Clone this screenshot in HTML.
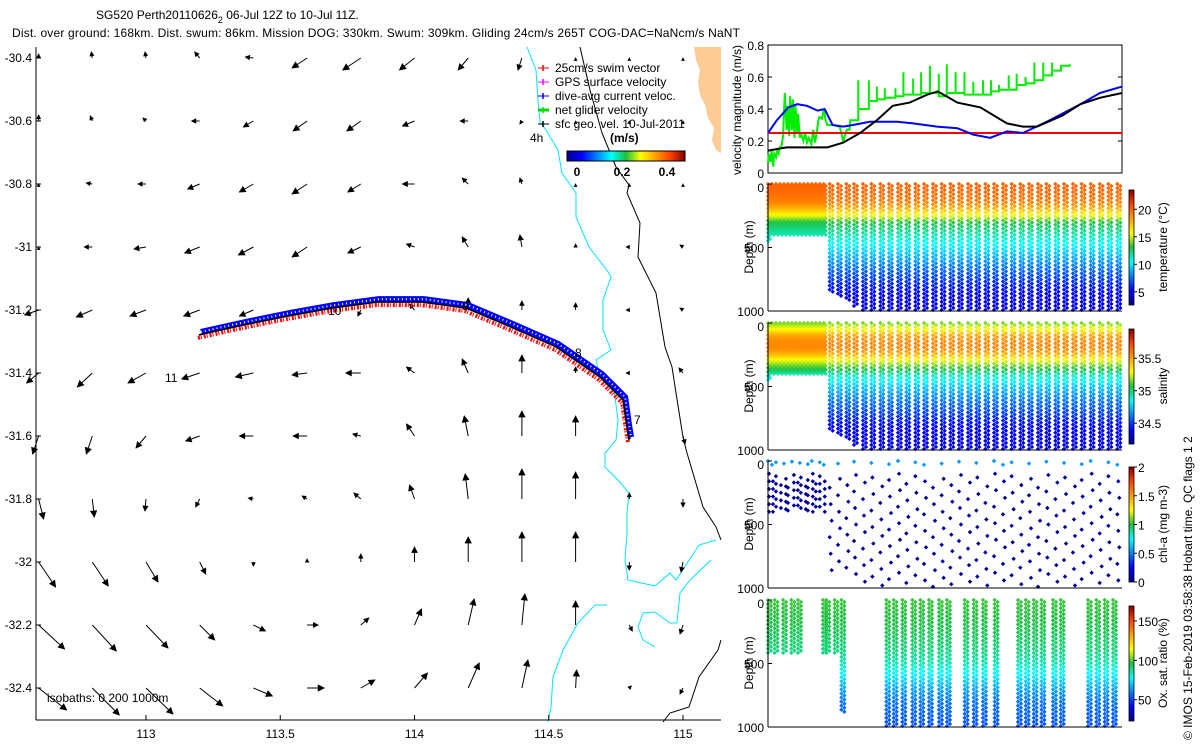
<!DOCTYPE html>
<html><head><meta charset="utf-8"><style>
html,body{margin:0;padding:0;background:#fff;}
svg{display:block;font-family:"Liberation Sans",sans-serif;}
text{fill:#000;}
</style></head><body>
<svg id="fig" width="1200" height="750" viewBox="0 0 1200 750" xmlns="http://www.w3.org/2000/svg">
<defs>
<linearGradient id="jetH" x1="0" x2="1" y1="0" y2="0">
<stop offset="0" stop-color="#00008f"/><stop offset="0.125" stop-color="#0000ff"/><stop offset="0.375" stop-color="#00ffff"/><stop offset="0.5" stop-color="#20c040"/><stop offset="0.625" stop-color="#ffff00"/><stop offset="0.875" stop-color="#ff4000"/><stop offset="1" stop-color="#800000"/>
</linearGradient>
<linearGradient id="jetV" x1="0" x2="0" y1="1" y2="0">
<stop offset="0" stop-color="#00008f"/><stop offset="0.125" stop-color="#0000ff"/><stop offset="0.375" stop-color="#00ffff"/><stop offset="0.5" stop-color="#20c040"/><stop offset="0.625" stop-color="#ffff00"/><stop offset="0.875" stop-color="#ff4000"/><stop offset="1" stop-color="#800000"/>
</linearGradient>
</defs>
<text x="96" y="19" font-size="12">SG520 Perth20110626<tspan font-size="9" dy="4">2</tspan><tspan dy="-4"> 06-Jul 12Z to 10-Jul 11Z.</tspan></text>
<text x="12" y="37" font-size="12" textLength="728">Dist. over ground: 168km. Dist. swum: 86km. Mission DOG: 330km. Swum: 309km. Gliding 24cm/s 265T COG-DAC=NaNcm/s NaNT</text>
<g id="map"></g>
<g id="vel"></g>
<g id="scat"></g>
<text transform="translate(1192,740) rotate(-90)" font-size="12">© IMOS 15-Feb-2019 03:58:38 Hobart time. QC flags 1  2</text>
</svg>
<script>
// ---------- MAP DATA ----------
const mapLons=[112.6,112.8,113.0,113.2,113.4,113.6,113.8,114.0,114.2,114.4,114.6,114.8,115.0];
const mapLats=[-30.4,-30.6,-30.8,-31.0,-31.2,-31.4,-31.6,-31.8,-32.0,-32.2,-32.4];
const arrowU=[
[0,-1,-1,-5,-8,-15,-18,-15,-10,-4,0,0,0],
[0,-2,-3,-8,-10,-14,-14,-12,-8,-2,0,0,0],
[0,-6,-8,-12,-14,-15,-13,-12,-6,-2,0,0,0],
[0,-8,-12,-15,-15,-15,-13,-8,-6,-2,0,-3,-3],
[-14,-16,-16,-16,-14,-8,-3,-5,0,0,0,-3,-3],
[-12,-15,-18,-18,-18,-15,-15,-8,-6,0,0,-3,-4],
[-6,-6,-10,-14,-14,-14,-8,-8,-4,0,0,0,2],
[5,2,-1,-4,-5,-5,-7,-5,-3,0,0,0,0],
[17,16,12,6,0,0,0,0,0,0,0,0,-2],
[26,24,22,15,12,11,8,7,6,3,0,3,-3],
[28,27,27,23,19,17,14,13,11,6,1,2,-3]];
const arrowV=[
[4,6,6,6,1,-10,-12,-12,-12,-12,0,0,0],
[6,5,3,0,-6,-10,-10,-5,0,-3,0,0,0],
[0,1,0,-5,-8,-10,-8,0,6,6,0,0,0],
[0,0,-2,-6,-8,-10,-6,3,10,12,3,0,2],
[-5,-7,-6,-6,-6,-3,-6,6,12,9,7,0,2],
[-10,-14,-10,-6,-4,-2,0,6,14,18,6,0,5],
[-18,-18,-12,-5,0,0,2,12,20,25,20,0,-8],
[-20,-18,-12,-8,1,3,6,14,25,30,27,6,-8],
[-25,-24,-20,-12,-4,3,8,15,25,30,30,-8,-10],
[-24,-26,-23,-15,-6,0,7,16,26,31,24,-6,-9],
[-22,-27,-26,-18,-8,0,8,15,25,28,18,2,-6]];
const trackLon=[113.197,113.361,113.529,113.693,113.860,114.028,114.192,114.359,114.527,114.691,114.777,114.791,114.799];
const trackLat=[-31.279,-31.248,-31.219,-31.194,-31.175,-31.175,-31.194,-31.254,-31.317,-31.413,-31.486,-31.571,-31.613];
const mapXTicks=[113,113.5,114,114.5,115];
const mapXTickLabels=["113","113.5","114","114.5","115"];
const mapYTicks=[-30.4,-30.6,-30.8,-31,-31.2,-31.4,-31.6,-31.8,-32,-32.2,-32.4];
const mapYTickLabels=["-30.4","-30.6","-30.8","-31","-31.2","-31.4","-31.6","-31.8","-32","-32.2","-32.4"];

// ---------- VELOCITY DATA (t = days since 06-Jul 00Z) ----------
const blueT=[0.5,0.60,0.73,0.83,0.94,1.06,1.14,1.23,1.35,1.46,1.65,1.96,2.14,2.41,2.64,2.82,3.01,3.20,3.38,3.65,4.03,4.25,4.50];
const blueV=[0.25,0.33,0.41,0.43,0.42,0.39,0.40,0.30,0.29,0.30,0.32,0.32,0.31,0.29,0.28,0.24,0.22,0.26,0.25,0.32,0.43,0.50,0.54];
const blackT=[0.5,0.71,0.94,1.17,1.35,1.54,1.73,1.91,2.10,2.30,2.42,2.64,2.90,3.20,3.38,3.54,3.83,4.03,4.25,4.50];
const blackV=[0.14,0.16,0.16,0.16,0.19,0.25,0.33,0.42,0.44,0.49,0.51,0.44,0.41,0.31,0.29,0.29,0.36,0.43,0.47,0.50];
const swimV=0.25;
const greenT=[0.50,0.51,0.53,0.54,0.56,0.57,0.59,0.60,0.62,0.63,0.65,0.67,0.68,0.69,0.71,0.72,0.74,0.75,0.77,0.78,0.80,0.81,0.83,0.84,0.86,0.87,0.90,0.92,0.94,0.96,0.99,1.01,1.03,1.05,1.07,1.08,1.11,1.13,1.15,1.17,1.23,1.31,1.35,1.39,1.42,1.43,1.51];
const greenV=[0.06,0.12,0.07,0.14,0.04,0.12,0.10,0.14,0.12,0.16,0.16,0.23,0.37,0.50,0.27,0.42,0.23,0.48,0.27,0.46,0.22,0.42,0.25,0.37,0.22,0.25,0.20,0.25,0.19,0.22,0.18,0.27,0.19,0.25,0.33,0.35,0.34,0.40,0.33,0.30,0.30,0.29,0.20,0.27,0.27,0.33,0.33];
const diveT=[1.52,1.64,1.73,1.82,1.94,2.03,2.14,2.23,2.33,2.43,2.52,2.62,2.72,2.82,2.93,3.02,3.11,3.22,3.31,3.41,3.51,3.61,3.71,3.81];
const divePeak=[0.58,0.58,0.54,0.53,0.53,0.63,0.59,0.63,0.67,0.62,0.68,0.63,0.63,0.57,0.58,0.58,0.55,0.61,0.62,0.60,0.69,0.69,0.69,0.67];
const diveBase=[0.40,0.45,0.46,0.47,0.48,0.49,0.49,0.50,0.50,0.48,0.50,0.50,0.49,0.49,0.49,0.51,0.52,0.52,0.55,0.56,0.58,0.61,0.64,0.67];
const greenEnd=[3.91,0.68];
const velTicks=[0,0.2,0.4,0.6,0.8];
const velTickLabels=["0","0.2","0.4","0.6","0.8"];

// ---------- SECTION DATA ----------
const shallowT=[0.50,0.545,0.59,0.635,0.68,0.725,0.77,0.815,0.86,0.905,0.95,0.995,1.04,1.085,1.13];
const shallowMax=[450,400,400,400,400,400,400,400,400,400,400,400,400,400,400];
const deepT=[1.197,1.291,1.385,1.472,1.573,1.668,1.769,1.867,1.969,2.063,2.165,2.263,2.364,2.462,2.560,2.658,2.760,2.854,2.956,3.054,3.155,3.253,3.351,3.449,3.551,3.645,3.747,3.845,3.946,4.044,4.146,4.248,4.346,4.447];
const deepMax=[863,889,916,968,1000,1000,1000,1000,1000,1000,1000,1000,1000,1000,1000,1000,1000,1000,1000,1000,1000,1000,1000,1000,1000,1000,1000,1000,1000,1000,1000,1000,1000,1000];
const profDepth=[0,50,100,150,200,250,300,400,500,600,700,800,900,1000];
const tempProf=[20.0,19.8,19.5,19.0,17.5,15.5,13.0,11.5,10.0,8.5,7.0,5.8,4.9,4.3];
const salProf=[35.15,35.3,35.5,35.56,35.56,35.45,35.25,34.95,34.75,34.62,34.52,34.42,34.36,34.32];
const oxDepth=[0,200,400,500,600,700,800,1000];
const oxProf=[98,95,90,85,75,65,58,52];
const chlSurf=0.55;
const oxT=[0.50,0.575,0.67,0.764,0.839,1.121,1.159,1.253,1.329,1.837,1.92,2.018,2.131,2.221,2.319,2.432,2.522,2.722,2.824,2.929,3.061,3.325,3.412,3.502,3.589,3.720,3.807,4.116,4.210,4.304,4.398];
const oxMax=[420,420,420,420,420,420,420,420,880,1000,1000,1000,1000,1000,1000,1000,1000,1000,1000,1000,1000,1000,1000,1000,1000,1000,1000,1000,1000,1000,1000];
const chlPhase=[0,60,20,90,40,110,10,70,30,100,50,0,80,20,60,110,40,90,10,70,30,100,50,0,80,20,60,110,40,90,10,70,30,100];
const dayTicks=[7,8,9,10];
const dayLabels=["07Jul","08Jul","09Jul","10Jul"];

// ---------- helpers ----------
const NS="http://www.w3.org/2000/svg";
function mk(tag,attrs,parent){const e=document.createElementNS(NS,tag);for(const k in attrs)e.setAttribute(k,attrs[k]);parent.appendChild(e);return e;}
function clamp(v){return Math.max(0,Math.min(1,v));}
const jetStops=[[0,0,0,143],[0.125,0,0,255],[0.375,0,255,255],[0.5,32,192,64],[0.625,255,255,0],[0.875,255,64,0],[1,128,0,0]];
function jet(f){f=clamp(f);for(let i=1;i<jetStops.length;i++){if(f<=jetStops[i][0]){const a=jetStops[i-1],b=jetStops[i];const w=(f-a[0])/(b[0]-a[0]);return `rgb(${Math.round(a[1]+w*(b[1]-a[1]))},${Math.round(a[2]+w*(b[2]-a[2]))},${Math.round(a[3]+w*(b[3]-a[3]))})`;}}return "rgb(128,0,0)";}
function interp(xs,ys,x){if(x<=xs[0])return ys[0];for(let i=1;i<xs.length;i++){if(x<=xs[i]){const f=(x-xs[i-1])/(xs[i]-xs[i-1]);return ys[i-1]+f*(ys[i]-ys[i-1]);}}return ys[ys.length-1];}

// ---------- MAP ----------
const map=document.getElementById('map');
const mx=lon=>146+(lon-113)*268.5;
const my=lat=>58+(-30.4-lat)*315;
let land=mk('path',{d:"M694,47 L721,47 L721,153 L716,150 L712,140 L714,128 L708,118 L705,105 L700,95 L698,82 L700,70 L696,60 Z",fill:"#fdcb96",stroke:"none"},map);

let iso200=mk('polyline',{points:"527,47 536,70 538,100 540,122 546,130 558,150 562,173 576,193 576,217 589,247 609,273 611,277 603,300 603,330 611,350 596,360 600,377 614,390 618,420 616,440 605,453 605,467 618,480 629,493 627,513 627,533 625,560 628,580 655,586 670,573 676,580 699,545 716,540",fill:"none",stroke:"#00e5ff","stroke-width":1},map);

let iso200b=mk('polyline',{points:"711,560 690,580 680,593 677,623 670,623 655,612 643,613 638,627 643,640 655,647",fill:"none",stroke:"#00e5ff","stroke-width":1},map);

let iso200c=mk('polyline',{points:"607,605 595,605 578,623 563,650 553,677 551,707 548,722",fill:"none",stroke:"#00e5ff","stroke-width":1},map);

let iso1000=mk('polyline',{points:"580,47 590,90 602,133 616,167 629,185 627,193 640,223 638,257 656,293 665,347 672,367 676,393 683,437 687,453 703,507 716,527 721,540",fill:"none",stroke:"#000","stroke-width":1},map);

let iso1000b=mk('polyline',{points:"721,640 718,650 699,677 689,707 670,713 663,722",fill:"none",stroke:"#000","stroke-width":1},map);

for(let r=0;r<mapLats.length;r++){for(let c=0;c<mapLons.length;c++){
  const u=arrowU[r][c],v=arrowV[r][c];const x0=mx(mapLons[c]),y0=my(mapLats[r]);
  const x1=x0+u,y1=y0-v;const L=Math.hypot(u,v);
  const g=mk('g',{},map);
  
  mk('line',{x1:x0,y1:y0,x2:x1,y2:y1,stroke:"#000","stroke-width":1},g);
  const h=Math.min(6,2.5+L*0.2);const ux=L?u/L:0,uy=L?-v/L:-1;
  const bx=x1-ux*h,by=y1-uy*h;
  mk('polygon',{points:`${x1},${y1} ${bx-uy*h*0.5},${by+ux*h*0.5} ${bx+uy*h*0.5},${by-ux*h*0.5}`,fill:"#000",stroke:"#000","stroke-width":0.8},g);
}}
const tp=trackLon.map((l,i)=>`${mx(l)},${my(trackLat[i])}`).join(' ');
let tb=mk('polyline',{points:tp,fill:"none",stroke:"#0000ff","stroke-width":6,transform:"translate(2,-3)","stroke-linejoin":"round"},map);

let tw=mk('polyline',{points:tp,fill:"none",stroke:"#fff","stroke-width":2,"stroke-dasharray":"1 3",transform:"translate(2,-3)"},map);

let tr=mk('polyline',{points:tp,fill:"none",stroke:"#ff0000","stroke-width":4,"stroke-dasharray":"2 1 1 2",transform:"translate(-1,3)"},map);

let tk=mk('polyline',{points:tp,fill:"none",stroke:"#000","stroke-width":1.5},map);

[["10",328,315],["9",462,310],["8",575,357],["7",634,424],["11",165,382],["4h",530,142]].forEach(d=>{const t=mk('text',{x:d[1],y:d[2],"font-size":12},map);t.textContent=d[0];
});
let mxa=mk('line',{x1:36,y1:720,x2:721,y2:720,stroke:"#000"},map);
let mya=mk('line',{x1:36,y1:47,x2:36,y2:720,stroke:"#000"},map);
mapXTicks.forEach((v,i)=>{const x=mx(v);mk('line',{x1:x,y1:720,x2:x,y2:715,stroke:"#000"},map);
 const t=mk('text',{x:x,y:738,"font-size":12,"text-anchor":"middle"},map);t.textContent=mapXTickLabels[i];
 });
mapYTicks.forEach((v,i)=>{const y=my(v);mk('line',{x1:36,y1:y,x2:41,y2:y,stroke:"#000"},map);
 const t=mk('text',{x:32,y:y+4,"font-size":12,"text-anchor":"end"},map);t.textContent=mapYTickLabels[i];
 });
let isoT=mk('text',{x:47,y:702,"font-size":12},map);isoT.textContent="isobaths: 0   200  1000m";

const legItems=[["25cm/s swim vector","#ff0000",1],["GPS surface velocity","#ff00ff",1],["dive-avg current veloc.","#0000ff",1],["net glider velocity","#00dd00",3],["sfc geo. vel. 10-Jul-2011","#000",1]];
legItems.forEach((it,i)=>{const y=68+i*14;const g=mk('g',{},map);
 
 mk('line',{x1:538,y1:y,x2:549,y2:y,stroke:it[1],"stroke-width":it[2]},g);
 mk('line',{x1:543,y1:y-3,x2:543,y2:y+3,stroke:it[1],"stroke-width":1.5},g);
 const t=mk('text',{x:555,y:y+4,"font-size":12},g);t.textContent=it[0];});
let cu=mk('text',{x:610,y:142,"font-size":12,"font-weight":"bold"},map);cu.textContent="(m/s)";
let cb=mk('rect',{x:567,y:151,width:118,height:10,fill:"url(#jetH)",stroke:"#000","stroke-width":1},map);
[["0",577],["0.2",622],["0.4",667]].forEach(d=>{const t=mk('text',{x:d[1],y:176,"font-size":12,"font-weight":"bold","text-anchor":"middle"},map);t.textContent=d[0];
 });

// ---------- VELOCITY ----------
const vel=document.getElementById('vel');
const tx=t=>768+(t-0.5)*88.5;
const vy=v=>173-v*160;
let vb=mk('rect',{x:768,y:45,width:354,height:128,fill:"none",stroke:"#000"},vel);
velTicks.forEach((v,i)=>{const y=vy(v);mk('line',{x1:768,y1:y,x2:772,y2:y,stroke:"#000"},vel);mk('line',{x1:1118,y1:y,x2:1122,y2:y,stroke:"#000"},vel);
 const t=mk('text',{x:764,y:y+5,"font-size":12,"text-anchor":"end"},vel);t.textContent=velTickLabels[i];
 });
let vl=mk('text',{transform:"translate(741,110) rotate(-90)","font-size":12,"text-anchor":"middle"},vel);vl.textContent="velocity magnitude (m/s)";

let gp=[];greenT.forEach((t,i)=>gp.push(`${tx(t)},${vy(greenV[i])}`));
let prev=greenV[greenV.length-1];
diveT.forEach((t,i)=>{gp.push(`${tx(t)},${vy(prev)}`);gp.push(`${tx(t)},${vy(divePeak[i])}`);gp.push(`${tx(t)},${vy(diveBase[i])}`);prev=diveBase[i];});
gp.push(`${tx(greenEnd[0])},${vy(prev)}`);gp.push(`${tx(greenEnd[0])},${vy(greenEnd[1])}`);
let gl=mk('polyline',{points:gp.join(' '),fill:"none",stroke:"#00ee00","stroke-width":2},vel);
let rl=mk('line',{x1:768,y1:vy(swimV),x2:1122,y2:vy(swimV),stroke:"#ff0000","stroke-width":2},vel);
let bl=mk('polyline',{points:blueT.map((t,i)=>`${tx(t)},${vy(blueV[i])}`).join(' '),fill:"none",stroke:"#0000ff","stroke-width":2},vel);
let kl=mk('polyline',{points:blackT.map((t,i)=>`${tx(t)},${vy(blackV[i])}`).join(' '),fill:"none",stroke:"#000","stroke-width":2},vel);

// ---------- SECTIONS ----------
const scat=document.getElementById('scat');
const panels=[
 {top:184,name:'temperature',label:'temperature (°C)',lo:2.6,hi:23.5,ticks:[5,10,15,20],tl:["5","10","15","20"]},
 {top:323,name:'salinity',label:'salinity',lo:34.18,hi:35.95,ticks:[34.5,35,35.5],tl:["34.5","35","35.5"]},
 {top:461,name:'chlorophyll',label:'chl-a (mg m-3)',lo:0,hi:2,ticks:[0,0.5,1,1.5,2],tl:["0","0.5","1","1.5","2"]},
 {top:600,name:'oxygen',label:'Ox. sat. ratio (%)',lo:23,hi:169,ticks:[50,100,150],tl:["50","100","150"]}];
const PH=127;
panels.forEach((p,pi)=>{
 const g=mk('g',{},scat);
 
 
 const dy=d=>p.top+d/1000*PH;
 const col=v=>jet((v-p.lo)/(p.hi-p.lo));
 const dot=(x,d,v)=>{const e=mk('path',{d:`M${x-2.2},${dy(d)}l2.2,-2.2l2.2,2.2l-2.2,2.2z`,fill:col(v)},g);
   
   };
 const val=d=>pi===0?interp(profDepth,tempProf,d):pi===1?interp(profDepth,salProf,d):interp(oxDepth,oxProf,d);
 if(pi<2){
  shallowT.forEach((t,i)=>{for(let k=0;k<2;k++){for(let d=k*16;d<=shallowMax[i];d+=32){dot(tx(t)+k*2,d,val(d));}}});
  deepT.forEach((t,i)=>{for(let k=0;k<2;k++){for(let d=k*16;d<=deepMax[i];d+=32){dot(tx(t)+k*3,d,val(d));}}});
 } else if(pi===2){
  const cols=shallowT.map((t,i)=>[t,shallowMax[i]]).concat(deepT.map((t,i)=>[t,deepMax[i]]));
  cols.forEach((c,i)=>{const ph=chlPhase[i%chlPhase.length];
   if(ph<70) dot(tx(c[0]),ph*0.5,chlSurf);
   for(let d=100+ph;d<=c[1];d+=(c[1]>500?130:60)){dot(tx(c[0])+((d/10)%3),d,0.02);}});
 } else {
  oxT.forEach((t,i)=>{for(let k=0;k<2;k++){for(let d=k*16;d<=oxMax[i];d+=32){dot(tx(t)+k*3,d,val(d));}}});
 }
 let ax=mk('line',{x1:768,y1:p.top+PH,x2:1122,y2:p.top+PH,stroke:"#000"},g);
 let ay=mk('line',{x1:768,y1:p.top,x2:768,y2:p.top+PH,stroke:"#000"},g);
 [0,500,1000].forEach(d=>{mk('line',{x1:768,y1:dy(d),x2:772,y2:dy(d),stroke:"#000"},g);
  const t=mk('text',{x:764,y:dy(d)+(d===0?8:5),"font-size":12,"text-anchor":"end"},g);t.textContent=String(d);
  });
 let dl=mk('text',{transform:`translate(753,${p.top+63}) rotate(-90)`,"font-size":12,"text-anchor":"middle"},g);dl.textContent="Depth (m)";
 
 const cy0=p.top+6,cy1=p.top+PH-6;
 let cbr=mk('rect',{x:1129,y:cy0,width:5,height:cy1-cy0,fill:"url(#jetV)",stroke:"#000","stroke-width":0.8},g);
 
 p.ticks.forEach((v,i)=>{const y=cy1-(v-p.lo)/(p.hi-p.lo)*(cy1-cy0);mk('line',{x1:1134,y1:y,x2:1137,y2:y,stroke:"#000"},g);
  const t=mk('text',{x:1138,y:y+5,"font-size":12},g);t.textContent=p.tl[i];
  });
 let cl=mk('text',{transform:`translate(1167,${p.top+63}) rotate(-90)`,"font-size":12,"text-anchor":"middle"},g);cl.textContent=p.label;
 
});
dayTicks.forEach((d,i)=>{const x=tx(d);mk('line',{x1:x,y1:727,x2:x,y2:723,stroke:"#000"},scat);
 const t=mk('text',{x:x,y:742,"font-size":12,"text-anchor":"middle"},scat);t.textContent=dayLabels[i];
 });
</script>
</body></html>
